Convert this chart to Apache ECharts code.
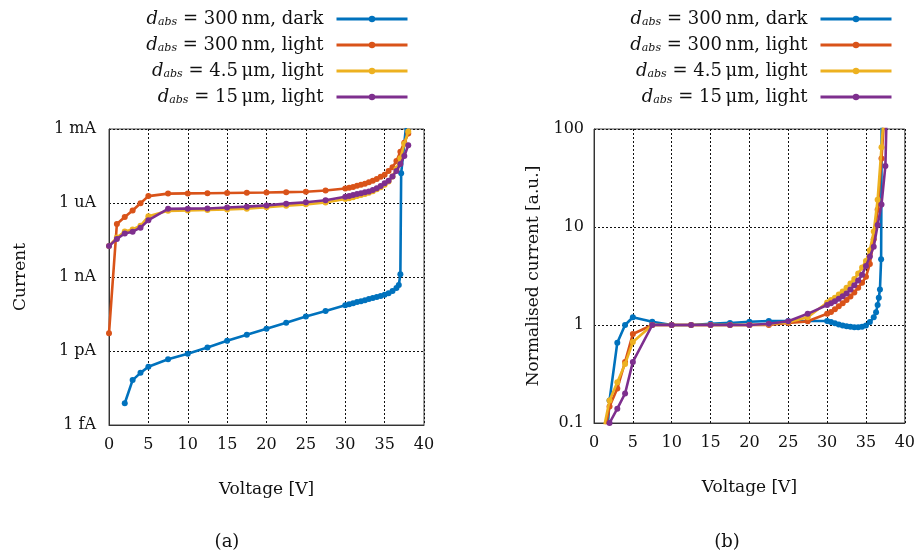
<!DOCTYPE html>
<html>
<head>
<meta charset="utf-8">
<script src="https://cdn.jsdelivr.net/npm/echarts@6/dist/echarts.min.js"></script>
<style>
  html, body { margin: 0; padding: 0; background: #fff; }
  #chart { width: 918px; height: 557px; }
</style>
</head>
<body>
<div id="chart"></div>
<script>
// ---- (a) absolute current vs voltage ----
const seriesNames = ['300\u2009nm, dark', '300\u2009nm, light', '4.5\u2009\u03bcm, light', '15\u2009\u03bcm, light'];
const seriesColors = ['#0072BD', '#D95319', '#EDB120', '#7E2F8E'];

const voltageDarkA = [2, 3, 4, 5, 7.5, 10, 12.5, 15, 17.5, 20, 22.5, 25, 27.5, 30, 30.5, 31, 31.5, 32, 32.5, 33, 33.5, 34, 34.5, 35, 35.5, 36, 36.5, 36.8, 37.0, 37.1, 37.7];
const currentDarkA = [7.6e-15, 6.6e-14, 1.3e-13, 2.3e-13, 4.6e-13, 7.8e-13, 1.4e-12, 2.6e-12, 4.6e-12, 7.9e-12, 1.4e-11, 2.5e-11, 4.2e-11, 7.2e-11, 7.9e-11, 8.7e-11, 9.6e-11, 1.05e-10, 1.15e-10, 1.27e-10, 1.4e-10, 1.55e-10, 1.7e-10, 1.9e-10, 2.2e-10, 2.7e-10, 3.6e-10, 4.7e-10, 1.3e-9, 1.6e-5, 1.1e-3];

const voltageLightA = [0, 1, 2, 3, 4, 5, 7.5, 10, 12.5, 15, 17.5, 20, 22.5, 25, 27.5, 30, 30.5, 31, 31.5, 32, 32.5, 33, 33.5, 34, 34.5, 35, 35.5, 36, 36.5, 37, 37.5, 38];
const current300LightA = [5.3e-12, 1.4e-7, 2.7e-7, 5.0e-7, 9.8e-7, 1.9e-6, 2.4e-6, 2.45e-6, 2.5e-6, 2.55e-6, 2.6e-6, 2.65e-6, 2.75e-6, 2.85e-6, 3.2e-6, 3.9e-6, 4.2e-6, 4.5e-6, 5.0e-6, 5.5e-6, 6.0e-6, 7.0e-6, 8.0e-6, 9.5e-6, 1.15e-5, 1.4e-5, 2.0e-5, 2.8e-5, 5.0e-5, 1.2e-4, 2.8e-4, 6.6e-4];
const current4500LightA = [1.8e-8, 4.0e-8, 7.0e-8, 8.5e-8, 1.2e-7, 2.9e-7, 4.8e-7, 5.0e-7, 5.2e-7, 5.5e-7, 5.9e-7, 6.7e-7, 7.7e-7, 8.8e-7, 1.05e-6, 1.45e-6, 1.55e-6, 1.7e-6, 1.9e-6, 2.1e-6, 2.3e-6, 2.6e-6, 3.0e-6, 3.6e-6, 4.4e-6, 5.5e-6, 7.5e-6, 1.2e-5, 2.4e-5, 6.5e-5, 2.5e-4, 8.0e-4];
const current15000LightA = [1.8e-8, 3.5e-8, 5.8e-8, 6.9e-8, 1.0e-7, 2.0e-7, 5.8e-7, 5.9e-7, 6.0e-7, 6.6e-7, 7.1e-7, 8.0e-7, 9.4e-7, 1.07e-6, 1.3e-6, 1.8e-6, 1.9e-6, 2.1e-6, 2.3e-6, 2.5e-6, 2.75e-6, 2.95e-6, 3.4e-6, 4.0e-6, 4.9e-6, 6.3e-6, 8.0e-6, 1.2e-5, 2.0e-5, 3.8e-5, 8.0e-5, 2.2e-4];

const currentTickLabels = { '-15': '1 fA', '-12': '1 pA', '-9': '1 nA', '-6': '1 uA', '-3': '1 mA' };

// ---- (b) normalised current vs voltage ----
const voltageDarkB = [1, 2, 3, 4, 5, 7.5, 10, 12.5, 15, 17.5, 20, 22.5, 25, 27.5, 30, 30.5, 31, 31.5, 32, 32.5, 33, 33.5, 34, 34.5, 35, 35.5, 36, 36.3, 36.5, 36.65, 36.8, 36.95, 37.05];
const normDarkB = [0.012, 0.17, 0.66, 1.0, 1.2, 1.08, 1.0, 1.0, 1.03, 1.05, 1.08, 1.1, 1.1, 1.1, 1.1, 1.07, 1.04, 1.01, 0.99, 0.97, 0.96, 0.95, 0.95, 0.96, 0.99, 1.07, 1.2, 1.35, 1.6, 1.9, 2.3, 4.7, 400];

const voltageLightB = [1, 2, 3, 4, 5, 7.5, 10, 12.5, 15, 17.5, 20, 22.5, 25, 27.5, 30, 30.5, 31, 31.5, 32, 32.5, 33, 33.5, 34, 34.5, 35, 35.5, 36, 36.5, 37, 37.5, 38];
const norm300LightB = [0.057, 0.147, 0.225, 0.42, 0.81, 1.0, 1.0, 1.0, 1.0, 1.0, 1.0, 1.0, 1.05, 1.09, 1.3, 1.36, 1.45, 1.55, 1.67, 1.8, 1.95, 2.15, 2.4, 2.7, 3.1, 4.2, 7.5, 15, 50, 200, 600];
const norm4500LightB = [0.07, 0.17, 0.26, 0.40, 0.67, 1.0, 1.0, 1.0, 1.0, 1.0, 1.0, 1.02, 1.07, 1.2, 1.7, 1.8, 1.9, 2.05, 2.2, 2.4, 2.65, 2.95, 3.35, 3.85, 4.5, 5.8, 9.0, 19, 65, 250, 800];
const norm15000LightB = [0.05, 0.1, 0.14, 0.2, 0.42, 1.0, 1.0, 1.0, 1.0, 1.0, 1.0, 1.03, 1.09, 1.3, 1.6, 1.67, 1.75, 1.85, 1.97, 2.1, 2.3, 2.55, 2.85, 3.25, 4.0, 5.0, 6.3, 10.5, 17, 42, 2000];

const normTickLabels = { '-1': '0.1', '0': '1', '1': '10', '2': '100' };

const FONT = 'DejaVu Serif';
const INK = '#111';

function pairs(xs, ys) { return xs.map((x, i) => [x, ys[i]]); }

function lineSeries(name, idx, xs, ys, axis) {
  return {
    name: name,
    type: 'line',
    xAxisIndex: axis,
    yAxisIndex: axis,
    data: pairs(xs, ys),
    symbol: 'circle',
    symbolSize: 6,
    clip: true,
    color: seriesColors[idx],
    lineStyle: { width: 2.6, color: seriesColors[idx] },
    itemStyle: { color: seriesColors[idx] },
    emphasis: { disabled: true },
    z: 2 + idx
  };
}

// legend labels: italic d with subscript "abs", then the sample description
const legendRich = {
  d: { fontFamily: FONT, fontStyle: 'italic', fontSize: 18, lineHeight: 18, color: INK, verticalAlign: 'middle' },
  s: { fontFamily: FONT, fontStyle: 'italic', fontSize: 11, lineHeight: 6, color: INK, verticalAlign: 'bottom' },
  t: { fontFamily: FONT, fontSize: 18, lineHeight: 18, color: INK, verticalAlign: 'middle', padding: [0, 8, 0, 0] }
};

function makeLegend(right) {
  return {
    data: seriesNames,
    orient: 'vertical',
    right: right,
    top: 5,
    align: 'right',
    itemWidth: 71,
    itemHeight: 8,
    itemGap: 8,
    selectedMode: false,
    lineStyle: { width: 3 },
    formatter: name => '{d|d}{s|abs}{t| = ' + name + '}',
    textStyle: { rich: legendRich, fontFamily: FONT, fontSize: 18 }
  };
}

function xAxisCfg(gridIndex) {
  return {
    type: 'value', gridIndex: gridIndex, min: 0, max: 40, interval: 5,
    name: 'Voltage [V]', nameLocation: 'middle', nameGap: 56,
    nameTextStyle: { fontFamily: FONT, fontSize: 17, color: INK },
    axisLine: { show: true, onZero: false, lineStyle: { color: '#333', width: 1 } },
    axisTick: { show: false },
    axisLabel: { fontFamily: FONT, fontSize: 16, color: INK, margin: 12 },
    splitLine: { show: true, lineStyle: { color: INK, type: [2, 2], width: 1 } }
  };
}

const option = {
  animation: false,
  backgroundColor: '#fff',
  grid: [
    { left: 109, right: 494, top: 129, bottom: 132, show: true, borderColor: '#444', borderWidth: 1, containLabel: false },
    { left: 594, right: 11, top: 129, bottom: 134, show: true, borderColor: '#444', borderWidth: 1, containLabel: false }
  ],
  title: [
    { text: '(a)', left: 222, top: 528, textAlign: 'center', textStyle: { fontFamily: FONT, fontSize: 18, fontWeight: 'normal', color: INK } },
    { text: '(b)', left: 722, top: 528, textAlign: 'center', textStyle: { fontFamily: FONT, fontSize: 18, fontWeight: 'normal', color: INK } }
  ],
  legend: [makeLegend(504), makeLegend(20)],
  xAxis: [xAxisCfg(0), xAxisCfg(1)],
  yAxis: [
    {
      type: 'log', gridIndex: 0, logBase: 1000, min: 1e-15, max: 1e-3, splitNumber: 4,
      name: 'Current', nameLocation: 'middle', nameGap: 80,
      nameTextStyle: { fontFamily: FONT, fontSize: 17, color: INK },
      axisLine: { show: true, lineStyle: { color: '#333', width: 1 } },
      axisTick: { show: false },
      axisLabel: {
        fontFamily: FONT, fontSize: 16, color: INK, margin: 13,
        formatter: v => currentTickLabels[String(Math.round(Math.log10(v)))] || ''
      },
      splitLine: { show: true, lineStyle: { color: INK, type: [2, 2], width: 1 } }
    },
    {
      type: 'log', gridIndex: 1, logBase: 10, min: 0.1, max: 100, splitNumber: 3,
      name: 'Normalised current [a.u.]', nameLocation: 'middle', nameGap: 52,
      nameTextStyle: { fontFamily: FONT, fontSize: 17, color: INK },
      axisLine: { show: true, lineStyle: { color: '#333', width: 1 } },
      axisTick: { show: false },
      axisLabel: {
        fontFamily: FONT, fontSize: 16, color: INK, margin: 10,
        formatter: v => normTickLabels[String(Math.round(Math.log10(v)))] || ''
      },
      splitLine: { show: true, lineStyle: { color: INK, type: [2, 2], width: 1 } }
    }
  ],
  series: [
    lineSeries(seriesNames[0], 0, voltageDarkA, currentDarkA, 0),
    lineSeries(seriesNames[1], 1, voltageLightA, current300LightA, 0),
    lineSeries(seriesNames[2], 2, voltageLightA, current4500LightA, 0),
    lineSeries(seriesNames[3], 3, voltageLightA, current15000LightA, 0),
    lineSeries(seriesNames[0], 0, voltageDarkB, normDarkB, 1),
    lineSeries(seriesNames[1], 1, voltageLightB, norm300LightB, 1),
    lineSeries(seriesNames[2], 2, voltageLightB, norm4500LightB, 1),
    lineSeries(seriesNames[3], 3, voltageLightB, norm15000LightB, 1)
  ]
};

const chart = echarts.init(document.getElementById('chart'), null, { renderer: 'canvas' });
chart.setOption(option);
</script>
</body>
</html>
